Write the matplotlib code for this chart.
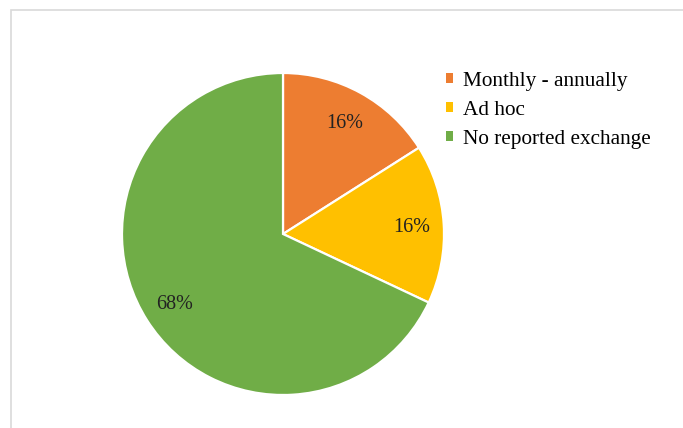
import matplotlib
matplotlib.use("Agg")
import matplotlib.pyplot as plt
from matplotlib.patches import Patch, Rectangle

labels = ["Monthly - annually", "Ad hoc", "No reported exchange"]
shares = [16, 16, 68]
colors = ["#ED7D31", "#FFC000", "#70AD47"]

plt.rcParams["font.family"] = ["Liberation Serif", "DejaVu Serif"]

W, H = 683, 428
fig = plt.figure(figsize=(W / 100, H / 100), dpi=100)

# light grey chart border
fig.patches.append(Rectangle((11 / W, -0.05), 1.1, (H - 10) / H + 0.05,
                             transform=fig.transFigure, fill=False,
                             edgecolor="#D9D9D9", linewidth=1.2))

cx, cy, r = 283, 234, 161
ax = fig.add_axes([(cx - r) / W, (H - cy - r) / H, 2 * r / W, 2 * r / H])
wedges, _, autotexts = ax.pie(
    shares, colors=colors, startangle=90, counterclock=False,
    autopct=lambda p: f"{p:.0f}%", pctdistance=0.8,
    wedgeprops=dict(edgecolor="white", linewidth=1.6),
    textprops=dict(fontsize=14.5, color="#222222"))
for t in autotexts:
    x, y = t.get_position()
    t.set_position((x, y - 0.012))
ax.set_xlim(-1, 1)
ax.set_ylim(-1, 1)
ax.set_aspect("equal")

handles = [Patch(facecolor=c, edgecolor="none") for c in colors]
fig.legend(handles, labels, loc="upper left",
           bbox_to_anchor=(446 / W, (H - 72) / H), frameon=False,
           fontsize=15.3, handlelength=0.33, handleheight=0.33,
           handletextpad=0.45, labelspacing=0.46, borderaxespad=0,
           borderpad=0)

fig.savefig("out.png", dpi=100)
